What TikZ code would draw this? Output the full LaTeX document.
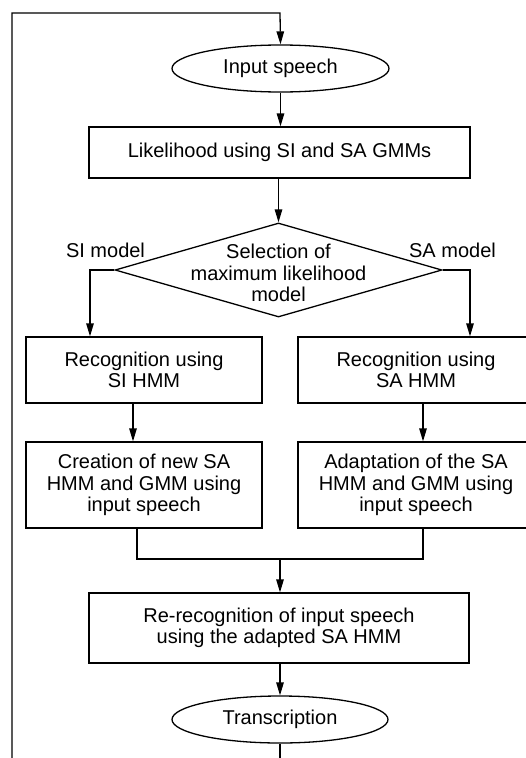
\documentclass[tikz,border=0pt]{standalone}
\usepackage{fontspec}
\setmainfont{Liberation Sans}
\usetikzlibrary{shapes.geometric,arrows.meta}

\tikzset{
    box/.style={draw, rectangle, line width=1.3pt, align=center, inner sep=0pt},
    term/.style={draw, ellipse, line width=1.3pt, inner sep=0pt},
    choice/.style={draw, diamond, line width=1.3pt, inner sep=0pt},
    arr/.style={line width=1.3pt, -{Triangle[length=13pt,width=7.5pt]}},
    ln/.style={line width=1.3pt}
}

\begin{document}
\begin{tikzpicture}[x=1pt, y=-1pt, font=\fontsize{20}{21.5}\selectfont]
    \useasboundingbox (0,0) rectangle (525,758);

    % Start and end of the loop
    \node[term, minimum width=217pt, minimum height=47pt] (in) at (280.5,68.5) {Input speech};
    \node[term, minimum width=216pt, minimum height=47pt] (tr) at (280,719.5) {Transcription};

    % Likelihood and model selection
    \node[box, minimum width=381pt, minimum height=51pt] (lik) at (279.5,152.5) {Likelihood using SI and SA GMMs};
    \node[choice, minimum width=327pt, minimum height=94pt] (sel) at (278.5,270) {};
    \node[align=center] (seltext) at (278.5,273) {Selection of\\maximum likelihood\\model};

    % Two branches
    \node[box, minimum width=236pt, minimum height=66pt] (sirec) at (144,370) {Recognition using\\SI HMM};
    \node[box, minimum width=236pt, minimum height=66pt] (sarec) at (416,370) {Recognition using\\SA HMM};
    \node[box, minimum width=236pt, minimum height=86pt] (sinew) at (144,485) {Creation of new SA\\HMM and GMM using\\input speech};
    \node[box, minimum width=236pt, minimum height=86pt] (saadp) at (416,485) {Adaptation of the SA\\HMM and GMM using\\input speech};

    % Re-recognition
    \node[box, minimum width=380pt, minimum height=70pt] (rerec) at (279,628) {Re-recognition of input speech\\using the adapted SA HMM};

    % Branch labels
    \node (silab) at (105.5,250) {SI model};
    \node (salab) at (452.5,250) {SA model};

    % Helper points
    \coordinate (loopL) at (12,760);
    \coordinate (loopT) at (280,13);
    \coordinate (join) at (280,559);

    % Connectors
    \draw[arr] (loopL) |- (loopT) -- (in.north);
    \draw[arr] (in.south) -- (in.south |- lik.north);
    \draw[arr] (lik.south -| sel.north) -- (sel.north);
    \draw[arr] (sel.west) -| ([xshift=-54pt]sirec.north);
    \draw[arr] (sel.east) -| ([xshift=54pt]sarec.north);
    \draw[arr] ([xshift=-11pt]sirec.south) -- ([xshift=-11pt]sinew.north);
    \draw[arr] ([xshift=7pt]sarec.south) -- ([xshift=7pt]saadp.north);
    \draw[ln] ([xshift=-7pt]sinew.south) |- (join) -| ([xshift=7pt]saadp.south);
    \draw[arr] (join) -- (join |- rerec.north);
    \draw[arr] (rerec.south -| tr.north) -- (tr.north);
    \draw[ln] (tr.south) -- ++(0,20);
\end{tikzpicture}
\end{document}
